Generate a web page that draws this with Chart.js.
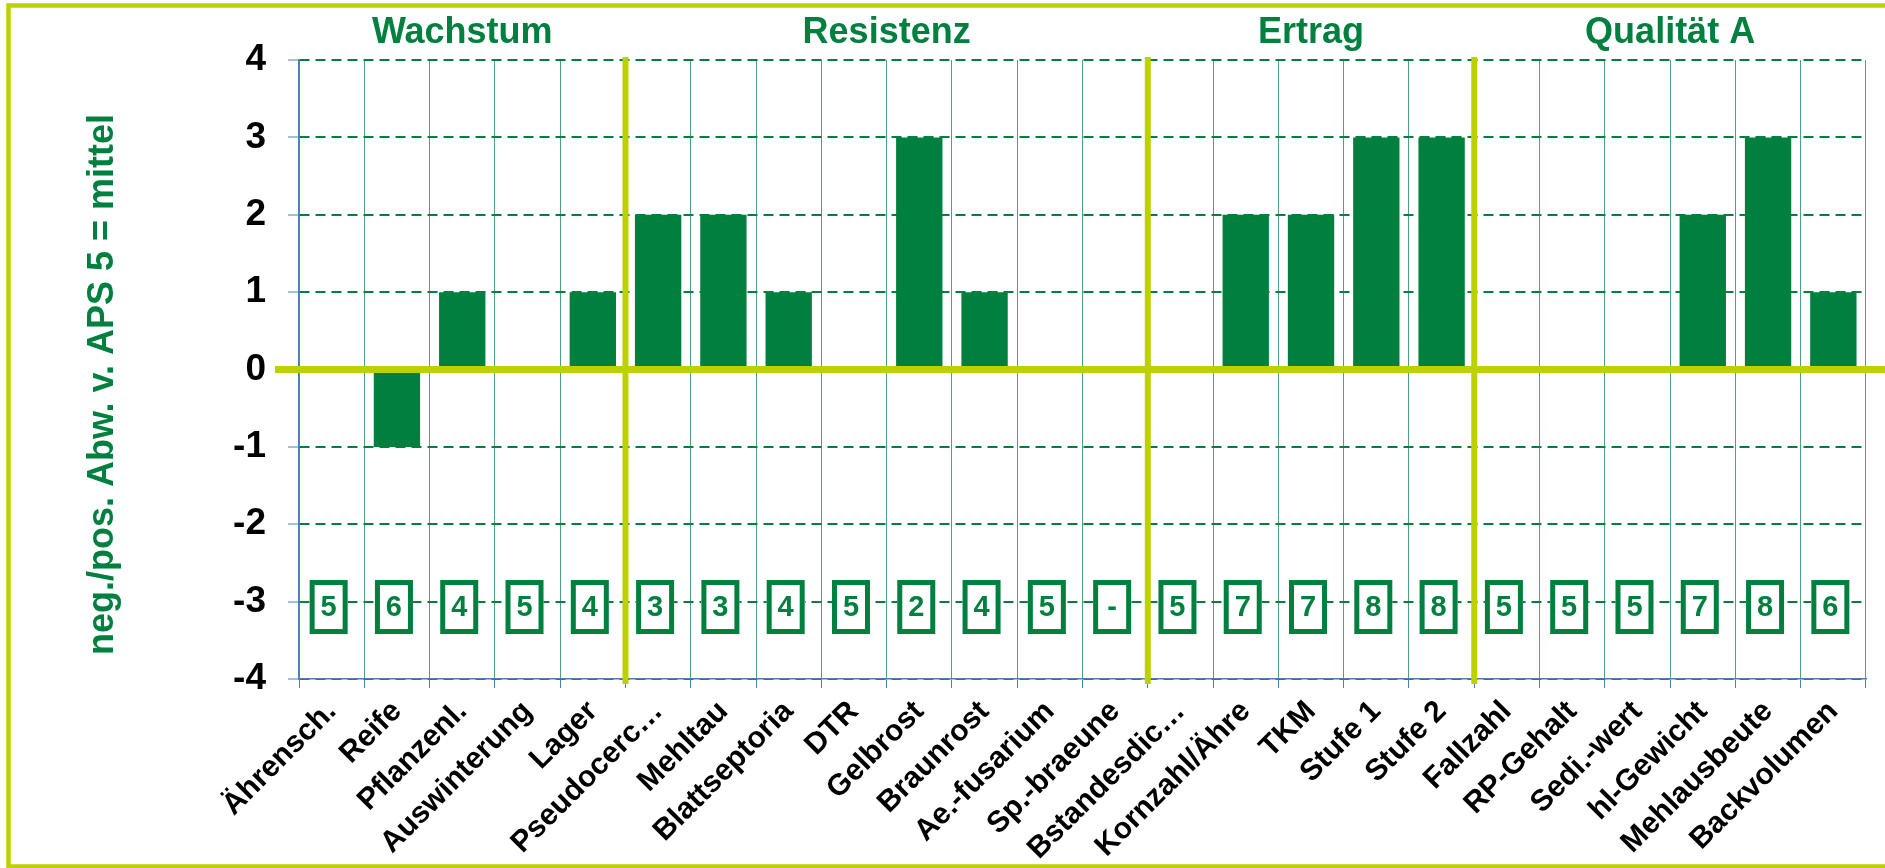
<!DOCTYPE html>
<html>
<head>
<meta charset="utf-8">
<script src="https://cdn.jsdelivr.net/npm/chart.js@4"></script>
<style>
  html, body { margin: 0; padding: 0; background: #fff; }
  #wrap { width: 1885px; height: 868px; }
</style>
</head>
<body>
<div id="wrap"><canvas id="apsChart"></canvas></div>
<script>
// Merkmale (x-Achse)
const merkmale = ['Ährensch.', 'Reife', 'Pflanzenl.', 'Auswinterung', 'Lager', 'Pseudocerc…', 'Mehltau',
  'Blattseptoria', 'DTR', 'Gelbrost', 'Braunrost', 'Ae.-fusarium', 'Sp.-braeune', 'Bstandesdic…',
  'Kornzahl/Ähre', 'TKM', 'Stufe 1', 'Stufe 2', 'Fallzahl', 'RP-Gehalt', 'Sedi.-wert', 'hl-Gewicht',
  'Mehlausbeute', 'Backvolumen'];

// Abweichung von APS 5
const abweichung = [0, -1, 1, 0, 1, 2, 2, 1, 0, 3, 1, 0, 0, 0, 2, 2, 3, 3, 0, 0, 0, 2, 3, 1];

// APS Noten in den Kästchen
const apsNoten = ['5', '6', '4', '5', '4', '3', '3', '4', '5', '2', '4', '5', '-', '5', '7', '7', '8', '8',
  '5', '5', '5', '7', '8', '6'];

// Gruppen oben
const gruppen = ['Wachstum', 'Resistenz', 'Ertrag', 'Qualität A'];
const gruppenGroesse = [5, 8, 5, 6];

// y-Achse
const yTicks = [-4, -3, -2, -1, 0, 1, 2, 3, 4];

const gruen = '#00803f';
const gelb = '#bdd100';
const blau = '#4a7fb5';
const schrift = 'Arial, "Liberation Sans", sans-serif';
const kastenWert = -3.07;

const deko = {
  id: 'deko',
  beforeDraw(chart) {
    const ctx = chart.ctx;
    ctx.save();
    ctx.fillStyle = '#fff';
    ctx.fillRect(0, 0, chart.width, chart.height);
    ctx.strokeStyle = gelb;
    ctx.lineWidth = 4.5;
    ctx.strokeRect(8.5, 5.5, chart.width + 20, chart.height - 7);
    ctx.restore();
  },
  afterDatasetsDraw(chart) {
    const { ctx, scales: { x, y } } = chart;
    ctx.save();

    // gelbe Nulllinie
    const y0 = y.getPixelForValue(0);
    ctx.fillStyle = gelb;
    ctx.fillRect(275, y0 - 3.5, chart.width - 275, 7);

    // Gruppen: Trennlinien und Titel
    let start = 0;
    gruppen.forEach((name, i) => {
      const ende = start + gruppenGroesse[i];
      const links = x.getPixelForValue(start - 0.5);
      const rechts = x.getPixelForValue(ende - 0.5);
      if (i > 0) {
        ctx.fillStyle = gelb;
        ctx.fillRect(links - 3, y.top - 3, 6, y.bottom - y.top + 8);
      }
      ctx.fillStyle = gruen;
      ctx.font = 'bold 36px ' + schrift;
      ctx.textAlign = 'center';
      ctx.textBaseline = 'middle';
      ctx.fillText(name, (links + rechts) / 2, 33);
      start = ende;
    });

    // Kästchen mit APS Noten
    const ky = y.getPixelForValue(kastenWert);
    apsNoten.forEach((note, i) => {
      const kx = x.getPixelForValue(i) - 3;
      ctx.fillStyle = '#fff';
      ctx.fillRect(kx - 19, ky - 27, 38, 54);
      ctx.strokeStyle = gruen;
      ctx.lineWidth = 5;
      ctx.strokeRect(kx - 16.5, ky - 24.5, 33, 49);
      ctx.fillStyle = gruen;
      ctx.font = 'bold 29px ' + schrift;
      ctx.textAlign = 'center';
      ctx.textBaseline = 'middle';
      ctx.fillText(note, kx, ky + 1);
    });
    ctx.restore();
  }
};

new Chart(document.getElementById('apsChart'), {
  type: 'bar',
  data: {
    labels: merkmale,
    datasets: [{
      data: abweichung,
      backgroundColor: gruen,
      categoryPercentage: 1,
      barPercentage: 0.71
    }]
  },
  options: {
    responsive: true,
    maintainAspectRatio: false,
    animation: false,
    layout: { padding: { top: 60, right: 19, left: 0, bottom: 0 } },
    plugins: { legend: { display: false }, tooltip: { enabled: false } },
    scales: {
      x: {
        grid: { color: '#4f9f80', lineWidth: 1, tickColor: blau, tickLength: 9, offset: true },
        border: { color: blau, width: 1.5 },
        ticks: {
          color: '#000',
          font: { family: schrift, weight: 'bold', size: 30 },
          minRotation: 45,
          maxRotation: 45,
          autoSkip: false,
          padding: 6
        },
        afterFit: s => { s.height = 189; }
      },
      y: {
        min: yTicks[0],
        max: yTicks[yTicks.length - 1],
        afterBuildTicks: s => { s.ticks = yTicks.map(v => ({ value: v })); },
        ticks: {
          color: '#000',
          font: { family: schrift, weight: 'bold', size: 37 },
          padding: 22
        },
        grid: { color: gruen, lineWidth: 2, tickColor: blau, tickLength: 11, tickWidth: 1 },
        border: { color: blau, width: 1.5, dash: [10, 6] },
        title: {
          display: true,
          // trailing spaces push the title a bit downwards like in the original
          text: 'neg./pos. Abw. v. APS 5 = mittel\u00a0\u00a0\u00a0',
          color: gruen,
          font: { family: schrift, weight: 'bold', size: 36 },
          padding: { top: 81, bottom: 0 }
        },
        afterFit: s => { s.width = 299; }
      }
    }
  },
  plugins: [deko]
});
</script>
</body>
</html>
